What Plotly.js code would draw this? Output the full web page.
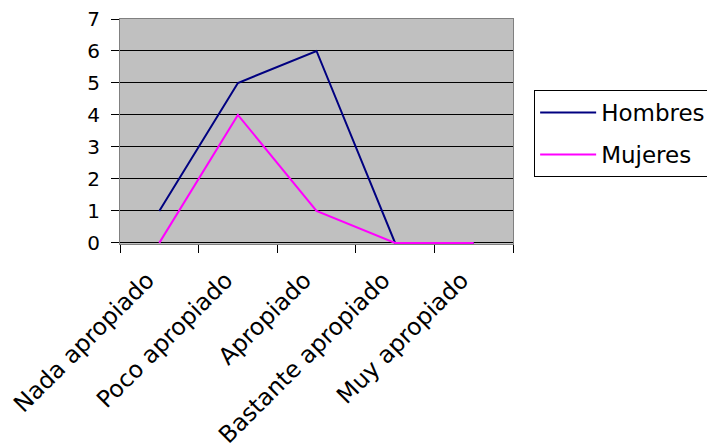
<!DOCTYPE html>
<html>
<head>
<meta charset="utf-8">
<script src="https://cdn.plot.ly/plotly-3.0.1.min.js"></script>
<style>html,body{margin:0;padding:0;background:#fff}#chart{width:707px;height:448px}</style>
</head>
<body>
<div id="chart"></div>
<script>
const categories = ["Nada apropiado", "Poco apropiado", "Apropiado", "Bastante apropiado", "Muy apropiado"];
const hombres = [1, 5, 6, 0, 0];
const mujeres = [0, 4, 1, 0, 0];
const yTicks = [0, 1, 2, 3, 4, 5, 6, 7];

const font = {family: "DejaVu Sans, Arial, sans-serif", color: "#000"};

const traces = [
  {x: categories, y: hombres, type: "scatter", mode: "lines", name: "Hombres", legendgroup: "h",
   line: {color: "#000080", width: 2}},
  {x: categories, y: mujeres, type: "scatter", mode: "lines", name: "Mujeres", legendgroup: "m",
   line: {color: "#FF00FF", width: 2}}
];

const layout = {
  width: 707, height: 448,
  margin: {l: 120, r: 194, t: 19, b: 204, pad: 0},
  paper_bgcolor: "#ffffff",
  plot_bgcolor: "#C0C0C0",
  font: Object.assign({size: 22}, font),
  showlegend: true,
  legend: {
    xref: "container", yref: "container",
    x: 0.7555, xanchor: "left", y: 0.799, yanchor: "top",
    bordercolor: "#000", borderwidth: 1, bgcolor: "#fff",
    font: Object.assign({size: 23}, font),
    tracegroupgap: 9,
    itemwidth: 56
  },
  xaxis: {
    type: "category",
    range: [-0.5, 4.5],
    tickangle: -45,
    ticks: "outside", ticklen: 8, tickcolor: "#000",
    tickson: "boundaries",
    ticklabelstandoff: 12,
    ticklabelshift: -12,
    showgrid: false, zeroline: false,
    showline: true, linecolor: "#808080", linewidth: 1, mirror: true,
    layer: "below traces",
    automargin: false,
    tickfont: Object.assign({size: 23.5}, font)
  },
  yaxis: {
    range: [-0.035, 7],
    tickvals: yTicks,
    ticks: "outside", ticklen: 8, tickcolor: "#000",
    ticklabelstandoff: 7,
    showgrid: true, gridcolor: "#000", gridwidth: 1,
    zeroline: false,
    showline: true, linecolor: "#808080", linewidth: 1, mirror: true,
    layer: "below traces",
    automargin: false,
    tickfont: Object.assign({size: 20}, font)
  }
};

Plotly.newPlot("chart", traces, layout, {displayModeBar: false, staticPlot: true});
</script>
</body>
</html>
